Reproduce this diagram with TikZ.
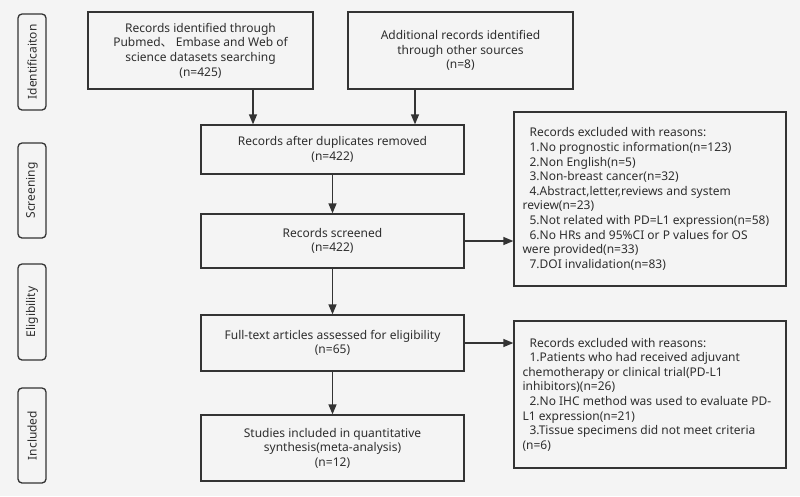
\documentclass[tikz,border=0pt]{standalone}
\usepackage{fontspec}
\setmainfont{Noto Sans}
\newfontfamily\cjk{Noto Sans CJK SC}
\usetikzlibrary{arrows.meta}
\definecolor{bg}{HTML}{F4F4F4}
\definecolor{ln}{HTML}{333333}
\begin{document}
\begin{tikzpicture}[x=1pt,y=-1pt,
  every node/.style={font=\fontsize{12}{14.6}\selectfont, text=ln!90!black},
  box/.style={draw=ln, line width=1.3pt, inner sep=0pt, align=center},
  side/.style={draw=ln, line width=1.3pt, rounded corners=4pt, inner sep=0pt, minimum width=28pt},
  arr/.style={draw=ln, line width=1.3pt, -{Triangle[length=10pt,width=8pt]}}]
\fill[bg] (0,0) rectangle (800,496);
\useasboundingbox (0,0) rectangle (800,496);
% side labels
\node[side, minimum height=96pt] (s1) at (32,62) {};
\node[rotate=90] at (s1.center) {Identificaiton};
\node[side, minimum height=95pt] (s2) at (32,190.5) {};
\node[rotate=90] at (s2.center) {Screening};
\node[side, minimum height=96pt] (s3) at (32,312) {};
\node[rotate=90] at (s3.center) {Eligibility};
\node[side, minimum height=95pt] (s4) at (32,435.5) {};
\node[rotate=90] at (s4.center) {Included};
% main boxes
\node[box, minimum width=225pt, minimum height=77pt] (A) at (200.5,50.5)
  {Records identified through\\Pubmed{\cjk 、} Embase and Web of\\science datasets searching\\(n=425)};
\node[box, minimum width=225pt, minimum height=77pt] (B) at (460.5,50.5)
  {Additional records identified\\through other sources\\(n=8)};
\node[box, minimum width=263pt, minimum height=49pt] (C) at (332.5,149.5)
  {Records after duplicates removed\\(n=422)};
\node[box, minimum width=263pt, minimum height=54pt] (D) at (332.5,241)
  {Records screened\\(n=422)};
\node[box, minimum width=263pt, minimum height=56pt] (F) at (332.5,343)
  {Full-text articles assessed for eligibility\\(n=65)};
\node[box, minimum width=263pt, minimum height=66pt] (H) at (332.5,448)
  {Studies included in quantitative\\synthesis(meta-analysis)\\(n=12)};
% exclusion boxes
\node[box, minimum width=272pt, minimum height=174pt] (E) at (650,199) {};
\node[align=left, anchor=west, inner sep=0pt] at ([xshift=9pt]E.west)
  {\hspace{7pt}Records excluded with reasons:\\
   \hspace{7pt}1.No prognostic information(n=123)\\
   \hspace{7pt}2.Non English(n=5)\\
   \hspace{7pt}3.Non-breast cancer(n=32)\\
   \hspace{7pt}4.Abstract,letter,reviews and system\\
   review(n=23)\\
   \hspace{7pt}5.Not related with PD=L1 expression(n=58)\\
   \hspace{7pt}6.No HRs and 95\%CI or P values for OS\\
   were provided(n=33)\\
   \hspace{7pt}7.DOI invalidation(n=83)};
\node[box, minimum width=272pt, minimum height=147pt] (G) at (650,394.5) {};
\node[align=left, anchor=west, inner sep=0pt] at ([xshift=9pt]G.west)
  {\hspace{7pt}Records excluded with reasons:\\
   \hspace{7pt}1.Patients who had received adjuvant\\
   chemotherapy or clinical trial(PD-L1\\
   inhibitors)(n=26)\\
   \hspace{7pt}2.No IHC method was used to evaluate PD-\\
   L1 expression(n=21)\\
   \hspace{7pt}3.Tissue specimens did not meet criteria\\
   (n=6)};
% arrows
\draw[arr] ([xshift=52.5pt]A.south) -- ([xshift=52.5pt]A.south |- C.north);
\draw[arr] ([xshift=-45.5pt]B.south) -- ([xshift=-45.5pt]B.south |- C.north);
\draw[arr] (C) -- (D);
\draw[arr] (D) -- (F);
\draw[arr] (F) -- (H);
\draw[arr] (D.east) -- (D.east -| E.west);
\draw[arr] (F.east) -- (F.east -| G.west);
\end{tikzpicture}
\end{document}
